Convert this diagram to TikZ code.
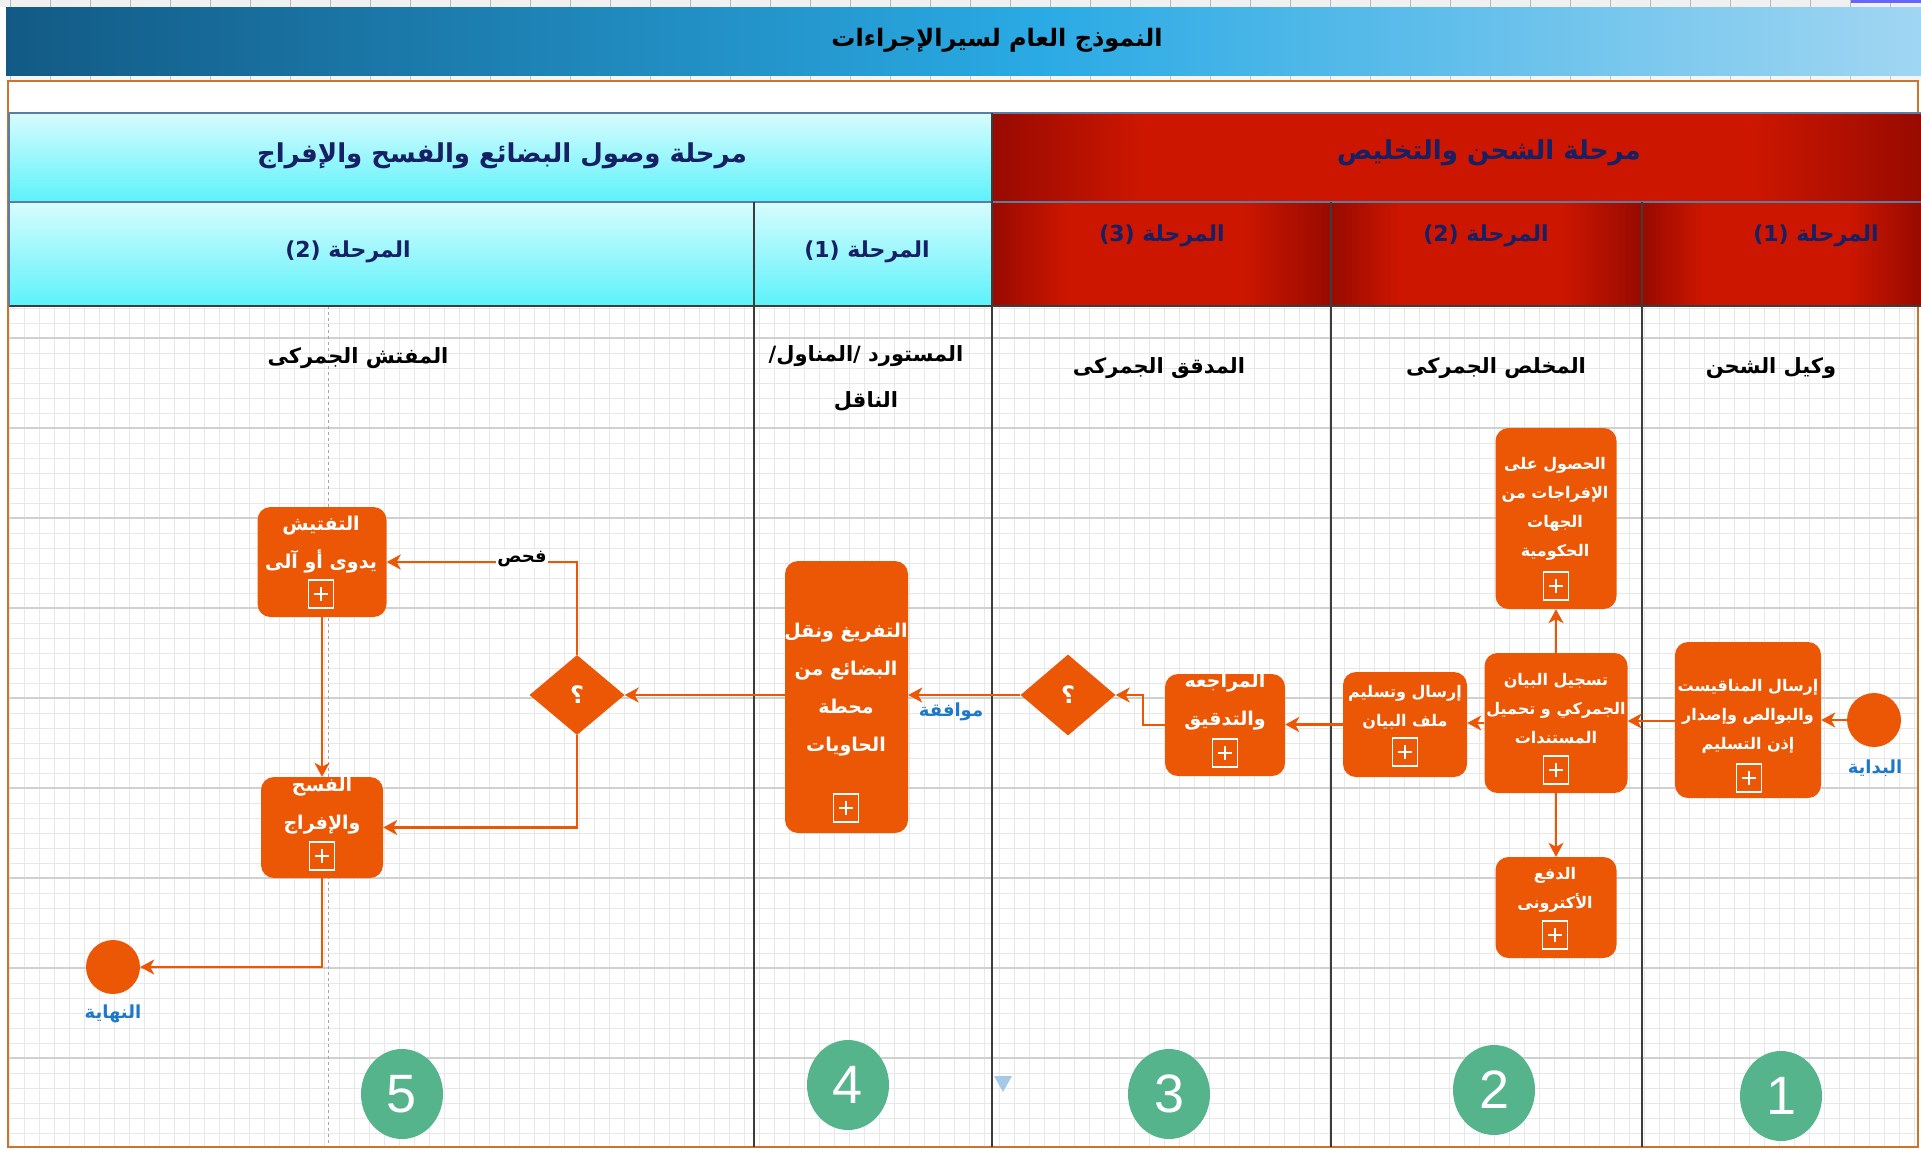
\documentclass[tikz,border=0pt]{standalone}
\usepackage{fontspec}
\setmainfont{Liberation Sans}
\newfontfamily\arfont[Script=Arabic]{DejaVu Sans}
\usetikzlibrary{arrows.meta,shapes.geometric,calc}
\TeXXeTstate=1
\definecolor{orng}{RGB}{235,87,5}
\definecolor{navy}{RGB}{22,32,100}
\definecolor{cyTop}{RGB}{215,252,254}
\definecolor{cyBot}{RGB}{92,242,250}
\definecolor{rdD}{RGB}{152,10,0}
\definecolor{rdB}{RGB}{204,22,0}
\definecolor{tA}{RGB}{18,90,133}
\definecolor{tB}{RGB}{42,170,228}
\definecolor{tC}{RGB}{160,214,242}
\definecolor{grnC}{RGB}{86,180,140}
\definecolor{lblue}{RGB}{30,120,200}
\definecolor{gridMinor}{RGB}{232,232,232}
\definecolor{gridMajor}{RGB}{208,208,208}
\definecolor{laneLine}{RGB}{60,60,60}
\definecolor{poolBorder}{RGB}{205,115,45}
\definecolor{hdrBorder}{RGB}{90,125,165}
\pgfdeclarehorizontalshading{titleshade}{100bp}{color(0bp)=(tA); color(25bp)=(tA); color(52bp)=(tB); color(75bp)=(tC); color(100bp)=(tC)}
\pgfdeclarehorizontalshading{redshade}{100bp}{color(0bp)=(rdD); color(25bp)=(rdD); color(36bp)=(rdB); color(62bp)=(rdB); color(75bp)=(rdD); color(100bp)=(rdD)}
\pgfdeclarehorizontalshading{redwide}{100bp}{color(0bp)=(rdD); color(25bp)=(rdD); color(33bp)=(rdB); color(66bp)=(rdB); color(75bp)=(rdD); color(100bp)=(rdD)}
\newcommand{\AR}[1]{{\arfont\bfseries\beginR #1\endR}}
\begin{document}
\begin{tikzpicture}[x=1pt,y=-1pt,
  box/.style={rectangle, rounded corners=13pt, fill=orng, draw=none, inner sep=0pt},
  dia/.style={diamond, fill=orng, inner sep=0pt, text=white, font=\fontsize{24}{24}\selectfont},
  evt/.style={circle, fill=orng, inner sep=0pt, minimum size=54pt},
  btxtS/.style={text=white, align=center, font=\fontsize{16}{29}\selectfont, inner sep=0pt},
  btxtL/.style={text=white, align=center, font=\fontsize{19}{38}\selectfont, inner sep=0pt},
  plusbox/.style={draw=white, line width=1.6pt, minimum width=25pt, minimum height=28pt, inner sep=0pt,
    path picture={\draw[white,line width=2.4pt]
      ([xshift=-7pt]path picture bounding box.center) -- ([xshift=7pt]path picture bounding box.center)
      ([yshift=-7pt]path picture bounding box.center) -- ([yshift=7pt]path picture bounding box.center);}},
  conn/.style={draw=orng, line width=2.2pt, -{Stealth[length=14pt,width=15pt,inset=4pt]}},
  hdr/.style={text=navy, font=\fontsize{26}{30}\selectfont, inner sep=0pt},
  subh/.style={text=navy, font=\fontsize{22}{26}\selectfont, inner sep=0pt},
  lanelbl/.style={text=black, font=\fontsize{21}{46}\selectfont, align=center, inner sep=0pt},
  numc/.style={ellipse, fill=grnC, minimum width=82pt, minimum height=90pt, inner sep=0pt, text=white, font=\fontsize{54}{54}\selectfont},
  evlbl/.style={text=lblue, font=\fontsize{18}{20}\selectfont, inner sep=0pt},
  redcell/.style={shading=redshade},
  cycell/.style={top color=cyTop, bottom color=cyBot},
]
\useasboundingbox (0,0) rectangle (1921,1149);
\fill[white] (0,0) rectangle (1921,1149);
% rulers
\fill[gray!12] (0,0) rectangle (1921,7);
\foreach \x in {10,50,...,1921} \draw[gray!55, line width=0.8pt] (\x,0) -- (\x,7);
\fill[gray!8] (6,75) rectangle (1921,81);
\foreach \x in {10,50,...,1921} \draw[gray!45, line width=0.8pt] (\x,75) -- (\x,81);
\fill[blue!60] (1851,0) rectangle (1921,3);
% title bar
\shade[shading=titleshade] (6,7) rectangle (1921,75);
\node[font=\fontsize{24}{26}\selectfont, text=black, inner sep=0pt] (title) at (997,40) {\AR{النموذج العام لسيرالإجراءات}};
% grid
\foreach \x in {9,24,...,1917} \draw[gridMinor, line width=0.7pt] (\x,306) -- (\x,1147);
\foreach \y in {308,323,...,1147} \draw[gridMinor, line width=0.7pt] (9,\y) -- (1917,\y);
\foreach \y in {338,428,...,1147} \draw[gridMajor, line width=1.6pt] (9,\y) -- (1917,\y);
\draw[gray!70, dashed, line width=1pt] (328,306) -- (328,1147);
% pool border
\draw[poolBorder, line width=1.5pt] (8,81) rectangle (1918,1147);
% headers
\shade[cycell] (9,113) rectangle (992,202);
\shade[shading=redwide] (992,113) rectangle (1921,202);
\shade[cycell] (9,202) rectangle (754,306);
\shade[cycell] (754,202) rectangle (992,306);
\shade[redcell] (992,202) rectangle (1331,306);
\shade[redcell] (1331,202) rectangle (1642,306);
\shade[redcell] (1642,202) rectangle (1921,306);
\draw[hdrBorder, line width=1.5pt] (9,113) -- (1921,113) (9,202) -- (1921,202);
\draw[laneLine, line width=1.5pt] (9,306) -- (1921,306);
\draw[laneLine, line width=1.5pt] (754,202) -- (754,1147) (992,113) -- (992,1147) (1331,202) -- (1331,1147) (1642,202) -- (1642,1147);
\draw[hdrBorder, line width=1.2pt] (9,113) -- (9,306);
\node[hdr] (h1) at (502,156) {\AR{مرحلة وصول البضائع والفسح والإفراج}};
\node[hdr] (h2) at (1489,153) {\AR{مرحلة الشحن والتخليص}};
\node[subh] (s5) at (348,252) {\AR{المرحلة \beginL(2)\endL{}}};
\node[subh] (s4) at (867,252) {\AR{المرحلة \beginL(1)\endL{}}};
\node[subh] (s3) at (1162,236) {\AR{المرحلة \beginL(3)\endL{}}};
\node[subh] (s2) at (1486,236) {\AR{المرحلة \beginL(2)\endL{}}};
\node[subh] (s1) at (1816,236) {\AR{المرحلة \beginL(1)\endL{}}};
% lane labels
\node[lanelbl] (l5) at (358,358) {\AR{المفتش الجمركى}};
\node[lanelbl] (l4) at (866,378) {\AR{المستورد /المناول/}\\\AR{الناقل}};
\node[lanelbl] (l3) at (1159,368) {\AR{المدقق الجمركى}};
\node[lanelbl] (l2) at (1496,368) {\AR{المخلص الجمركى}};
\node[lanelbl] (l1) at (1771,368) {\AR{وكيل الشحن}};
% flow nodes
\node[evt] (st) at (1874,720) {};
\node[evlbl] (stl) at (1875,768) {\AR{البداية}};
\node[box, minimum width=146pt, minimum height=156pt] (b2) at (1748,720) {};
\node[btxtS] (b2t) at (1748,716) {\AR{إرسال المناقيست}\\\AR{والبوالص وإصدار}\\\AR{إذن التسليم}};
\node[plusbox] (b2p) at (1749,778) {};
\node[box, minimum width=143pt, minimum height=140pt] (b3) at (1556,723) {};
\node[btxtS] (b3t) at (1556,709) {\AR{تسجيل البيان}\\\AR{الجمركي و تحميل}\\\AR{المستندات}};
\node[plusbox] (b3p) at (1556,770) {};
\node[box, minimum width=121pt, minimum height=181pt] (b4) at (1556,518.5) {};
\node[btxtS] (b4t) at (1555,509) {\AR{الحصول على}\\\AR{الإفراجات من}\\\AR{الجهات}\\\AR{الحكومية}};
\node[plusbox] (b4p) at (1556,586) {};
\node[box, minimum width=124pt, minimum height=105pt] (b5) at (1405,724.5) {};
\node[btxtS] (b5t) at (1405,707) {\AR{إرسال وتسليم}\\\AR{ملف البيان}};
\node[plusbox] (b5p) at (1405,752) {};
\node[box, minimum width=121pt, minimum height=101pt] (b6) at (1556,907.5) {};
\node[btxtS] (b6t) at (1555,890) {\AR{الدفع}\\\AR{الأكترونى}};
\node[plusbox] (b6p) at (1555,935) {};
\node[box, minimum width=120pt, minimum height=102pt] (b7) at (1225,725) {};
\node[btxtL] (b7t) at (1225,702) {\AR{المراجعه}\\\AR{والتدقيق}};
\node[plusbox] (b7p) at (1225,753) {};
\node[dia, minimum width=95pt, minimum height=81pt] (d1) at (1068,695) {\AR{؟}};
\node[box, minimum width=123pt, minimum height=272pt] (b9) at (846.5,697) {};
\node[btxtL] (b9t) at (846,690) {\AR{التفريغ ونقل}\\\AR{البضائع من}\\\AR{محطة}\\\AR{الحاويات}};
\node[plusbox] (b9p) at (846,808) {};
\node[dia, minimum width=95pt, minimum height=80pt] (d2) at (577,695) {\AR{؟}};
\node[box, minimum width=129pt, minimum height=110pt] (b12) at (322,562) {};
\node[btxtL] (b12t) at (321,545) {\AR{التفتيش}\\\AR{يدوى أو آلى}};
\node[plusbox] (b12p) at (321,594) {};
\node[box, minimum width=122pt, minimum height=101pt] (b13) at (322,827.5) {};
\node[btxtL] (b13t) at (322,806) {\AR{الفسح}\\\AR{والإفراج}};
\node[plusbox] (b13p) at (322,856) {};
\node[evt, minimum size=54pt] (fin) at (113,967) {};
\node[evlbl] (finl) at (113,1014) {\AR{النهاية}};
% connectors
\draw[conn] (st.west) -- (b2.east);
\draw[conn] (b2.west |- 0,721) -- (b3.east |- 0,721);
\draw[conn] (b3.west |- 0,723) -- (b5.east |- 0,723);
\draw[conn] (b3.north) -- (b3.north |- b4.south);
\draw[conn] (b3.south) -- (b3.south |- b6.north);
\draw[conn] (b5.west) -- (b5.west -| b7.east);
\draw[conn] (b7.west) -- ++(-22,0) |- (d1.east);
\draw[conn] (d1.west) -- (d1.west -| b9.east);
\node[evlbl] (ok) at (951,712) {\AR{موافقة}};
\draw[conn] (d2.east -| b9.west) -- (d2.east);
\draw[conn] (d2.north) |- (b12.east);
\node[text=black, font=\fontsize{18}{20}\selectfont, fill=white, inner sep=1pt] (chk) at (522,559) {\AR{فحص}};
\draw[conn] (d2.south) |- (b13.east);
\draw[conn] (b12.south) -- (b12.south |- b13.north);
\draw[conn] (b13.south) |- (fin.east);
% numbers
\node[numc] (n5) at (402,1094) {5};
\node[numc] (n4) at (848,1085) {4};
\node[numc] (n3) at (1169,1094) {3};
\node[numc] (n2) at (1494,1090) {2};
\node[numc] (n1) at (1781,1096) {1};
\fill[lblue!40] (994,1076) -- (1012,1076) -- (1003,1092) -- cycle;
\end{tikzpicture}
\end{document}
